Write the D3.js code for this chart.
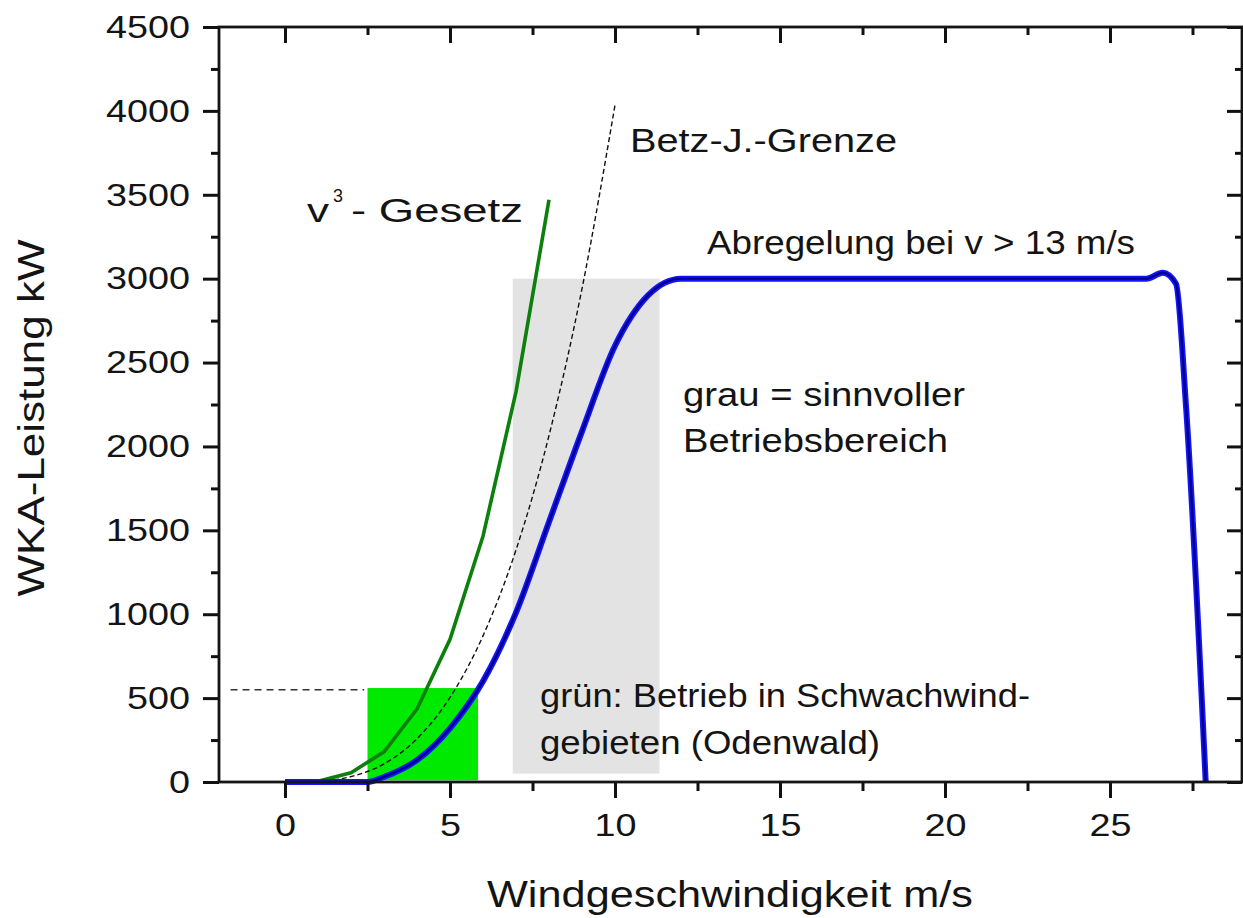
<!DOCTYPE html>
<html>
<head>
<meta charset="utf-8">
<script src="https://cdn.jsdelivr.net/npm/d3@7/dist/d3.min.js"></script>
<style>
  html, body { margin: 0; padding: 0; background: #fff; }
  svg { display: block; }
  text { font-family: "Liberation Sans", Arial, Helvetica, sans-serif; fill: #141414; }
</style>
</head>
<body>
<svg id="chart" width="1243" height="918"></svg>
<script>
// ---------------- data ----------------
const xMajorTicks = [0, 5, 10, 15, 20, 25];
const xMinorTicks = [2.5, 7.5, 12.5, 17.5, 22.5, 27.5];
const yMajorTicks = [0, 500, 1000, 1500, 2000, 2500, 3000, 3500, 4000, 4500];
const yMinorTicks = [250, 750, 1250, 1750, 2250, 2750, 3250, 3750, 4250];

// power curve of the turbine (blue)
const powerWind  = [0, 1, 2, 2.5, 3, 4, 5, 6, 7, 8, 9, 10, 11, 11.5, 12, 13, 15, 20, 25, 26.1, 26.6, 27.0, 27.3, 27.9];
const powerValue = [0, 0, 0, 0, 30, 130, 320, 600, 1010, 1550, 2090, 2600, 2900, 2975, 3000, 3000, 3000, 3000, 3000, 3000, 3035, 2970, 2250, 0];

// v^3 law (green)
const cubeWind  = [1, 2, 3, 4, 5, 6, 7, 8];
const cubeValue = [5, 55, 180, 435, 850, 1465, 2325, 3470];

// Betz limit (dashed)
const betzWind  = [1, 2, 3, 4, 5, 6, 7, 8, 9, 10];
const betzValue = [4, 32, 108, 258, 504, 871, 1383, 2065, 2940, 4035];

// shaded ranges [x0, x1, y0, y1]
const grayRange  = [6.9, 11.35, 50, 3000];
const greenRange = [2.5, 5.85, 10, 560];
// dashed reference line at the top of the green range [x0, x1, y]
const refLine = [-1.65, 2.4, 550];

// ---------------- chart ----------------
const svg = d3.select("#chart");
const L = 219, R = 1242, T = 27, B = 782;
const x = d3.scaleLinear().domain([-2, 29]).range([L, R]);
const y = d3.scaleLinear().domain([0, 4500]).range([B, T]);

// gray band
svg.append("rect")
  .attr("x", x(grayRange[0])).attr("y", y(grayRange[3]))
  .attr("width", x(grayRange[1]) - x(grayRange[0]))
  .attr("height", y(grayRange[2]) - y(grayRange[3]))
  .attr("fill", "#e3e3e3");

// green band
svg.append("rect")
  .attr("x", x(greenRange[0])).attr("y", y(greenRange[3]))
  .attr("width", x(greenRange[1]) - x(greenRange[0]))
  .attr("height", y(greenRange[2]) - y(greenRange[3]))
  .attr("fill", "#00ea00");

// dashed horizontal reference
svg.append("line")
  .attr("x1", x(refLine[0])).attr("x2", x(refLine[1]))
  .attr("y1", y(refLine[2])).attr("y2", y(refLine[2]))
  .attr("stroke", "#333").attr("stroke-width", 1.4)
  .attr("stroke-dasharray", "7,5");

const lineSmooth = d3.line().x(d => x(d[0])).y(d => y(d[1])).curve(d3.curveMonotoneX);
const lineLin = d3.line().x(d => x(d[0])).y(d => y(d[1]));

// Betz
svg.append("path")
  .attr("d", lineSmooth(d3.zip(betzWind, betzValue)))
  .attr("fill", "none").attr("stroke", "#111").attr("stroke-width", 1.4)
  .attr("stroke-dasharray", "5,3");

// v^3
svg.append("path")
  .attr("d", lineLin(d3.zip(cubeWind, cubeValue)))
  .attr("fill", "none").attr("stroke", "#0c7f0c").attr("stroke-width", 3.6)
  .attr("stroke-linejoin", "round");

// power curve
const pw = d3.zip(powerWind, powerValue);
svg.append("path")
  .attr("d", lineSmooth(pw))
  .attr("fill", "none").attr("stroke", "#1414ff").attr("stroke-width", 6)
  .attr("stroke-linejoin", "round");
svg.append("path")
  .attr("d", lineSmooth(pw))
  .attr("fill", "none").attr("stroke", "#00008a").attr("stroke-width", 2.4)
  .attr("stroke-linejoin", "round");

// ---------------- axes ----------------
function styleAxis(g) {
  g.select(".domain").remove();
  g.selectAll(".tick line").attr("stroke", "#111").attr("stroke-width", 3);
  g.selectAll(".tick text").style("font-size", "32px").attr("fill", "#141414");
}
// bottom (outward)
svg.append("g").attr("transform", `translate(0,${B})`)
  .call(d3.axisBottom(x).tickValues(xMajorTicks).tickSize(16).tickPadding(15).tickFormat(d3.format("d")))
  .call(styleAxis);
svg.append("g").attr("transform", `translate(0,${B})`)
  .call(d3.axisBottom(x).tickValues(xMinorTicks).tickSize(9).tickFormat(""))
  .call(styleAxis);
// top (inward)
svg.append("g").attr("transform", `translate(0,${T})`)
  .call(d3.axisBottom(x).tickValues(xMajorTicks).tickSize(16).tickFormat(""))
  .call(styleAxis);
svg.append("g").attr("transform", `translate(0,${T})`)
  .call(d3.axisBottom(x).tickValues(xMinorTicks).tickSize(8).tickFormat(""))
  .call(styleAxis);
// left (outward)
svg.append("g").attr("transform", `translate(${L},0)`)
  .call(d3.axisLeft(y).tickValues(yMajorTicks).tickSize(16).tickPadding(13).tickFormat(d3.format("d")))
  .call(styleAxis);
svg.append("g").attr("transform", `translate(${L},0)`)
  .call(d3.axisLeft(y).tickValues(yMinorTicks).tickSize(8).tickFormat(""))
  .call(styleAxis);
// right (inward)
svg.append("g").attr("transform", `translate(${R},0)`)
  .call(d3.axisLeft(y).tickValues(yMajorTicks).tickSize(15).tickFormat(""))
  .call(styleAxis);
svg.append("g").attr("transform", `translate(${R},0)`)
  .call(d3.axisLeft(y).tickValues(yMinorTicks).tickSize(7).tickFormat(""))
  .call(styleAxis);

// frame
svg.append("rect")
  .attr("x", L).attr("y", T).attr("width", R - L).attr("height", B - T)
  .attr("fill", "none").attr("stroke", "#141414").attr("stroke-width", 2.8);

// stretch tick labels slightly (the original font is wide)
function widen(sel, k) {
  sel.each(function() {
    const n = this.getComputedTextLength();
    d3.select(this).attr("textLength", n * k).attr("lengthAdjust", "spacingAndGlyphs");
  });
}
widen(svg.selectAll(".tick text"), 1.18);

// ---------------- titles & annotations ----------------
function label(txt, px, py, size, width, anchor) {
  const t = svg.append("text").attr("x", px).attr("y", py)
    .style("font-size", size + "px").attr("text-anchor", anchor || "start").text(txt);
  if (width) t.attr("textLength", width).attr("lengthAdjust", "spacingAndGlyphs");
  return t;
}

label("Windgeschwindigkeit m/s", 730, 907, 37, 486, "middle");
svg.append("text")
  .attr("transform", "translate(44,418) rotate(-90)")
  .attr("text-anchor", "middle")
  .style("font-size", "37px")
  .attr("textLength", 357).attr("lengthAdjust", "spacingAndGlyphs")
  .text("WKA-Leistung kW");

label("v", 307, 222, 34, 22);
label("3", 333, 202, 19, 10);
label("- Gesetz", 351, 222, 34, 172);
label("Betz-J.-Grenze", 630, 152, 34, 267);
label("Abregelung bei v > 13 m/s", 707, 254, 34, 428);
label("grau = sinnvoller", 683, 406, 34, 282);
label("Betriebsbereich", 683, 452, 34, 265);
label("grün: Betrieb in Schwachwind-", 540, 707, 34, 490);
label("gebieten (Odenwald)", 540, 754, 34, 340);
</script>
</body>
</html>
